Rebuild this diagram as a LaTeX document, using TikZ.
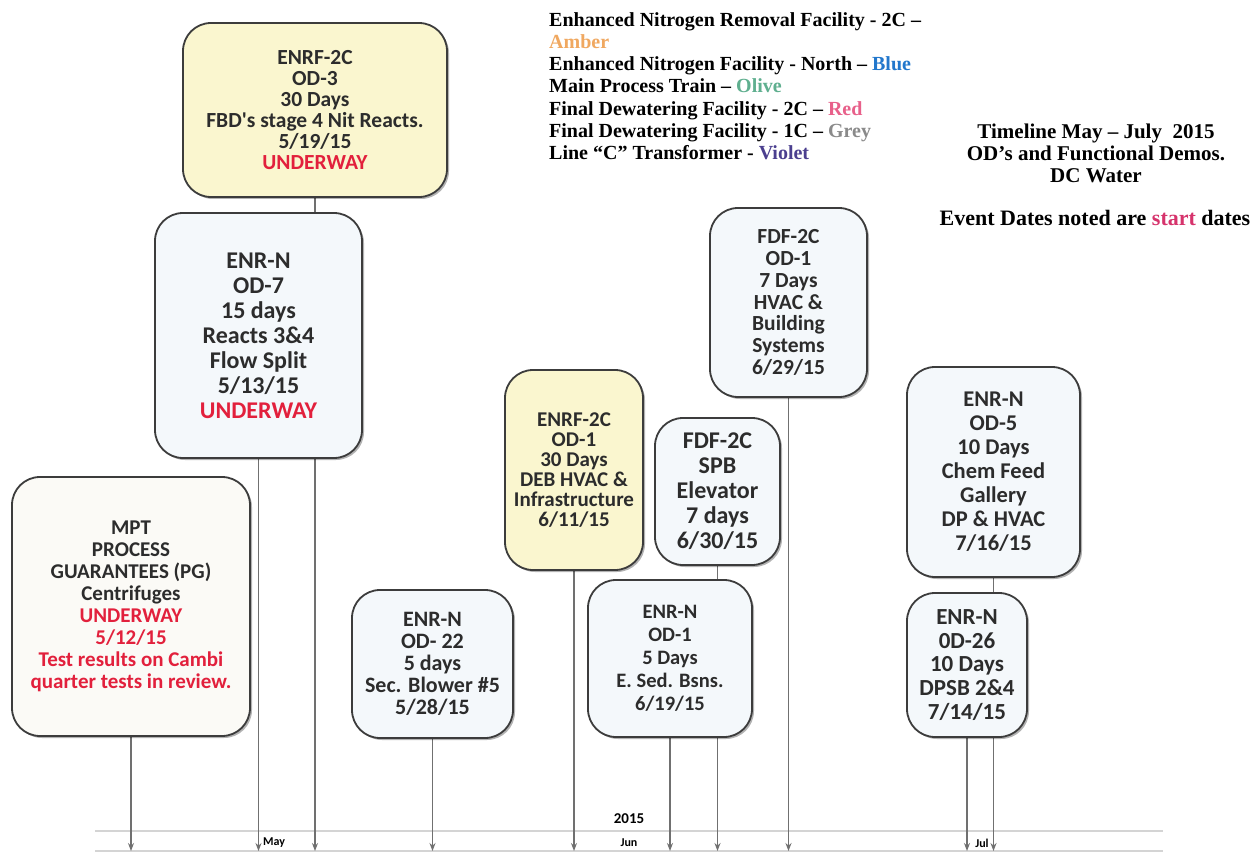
\documentclass[tikz,border=0pt]{standalone}
\usepackage{fontspec}
\setmainfont{Liberation Serif}
\newfontfamily\boxfont{Carlito}
\usetikzlibrary{shapes,arrows.meta,positioning,shadows,backgrounds}
\definecolor{amberfill}{HTML}{FAF6CF}
\definecolor{bluefill}{HTML}{F4F8FB}
\definecolor{olivefill}{HTML}{FBFAF6}
\definecolor{boxline}{HTML}{3C3C3C}
\definecolor{boxtext}{HTML}{2C2C2C}
\definecolor{underway}{HTML}{E2203C}
\definecolor{linegrey}{HTML}{707070}
\definecolor{axisgrey}{HTML}{D4D4D4}
\definecolor{amber}{HTML}{F0A860}
\definecolor{blueleg}{HTML}{2277CC}
\definecolor{oliveleg}{HTML}{5FAF8F}
\definecolor{redleg}{HTML}{E8608A}
\definecolor{greyleg}{HTML}{8A8A8A}
\definecolor{violetleg}{HTML}{4B3F8F}
\definecolor{startred}{HTML}{D6336C}
\tikzstyle{event} = [rectangle, draw=boxline, line width=1.8pt, rounded corners=28pt,
    align=center, inner sep=0pt, text=boxtext,
    drop shadow={shadow xshift=2pt, shadow yshift=-2pt, opacity=0.3, fill=black}]
\tikzstyle{arrow} = [line width=1.1pt, draw=linegrey, -{Stealth[length=8pt,width=6pt]}]
\tikzstyle{axisline} = [line width=2.5pt, draw=axisgrey]
\tikzset{fs/.style 2 args={font=\boxfont\bfseries\fontsize{#1}{#2}\selectfont}}

\begin{document}
\begin{tikzpicture}[x=1pt, y=-1pt]
\useasboundingbox (0,0) rectangle (1259,853);
% event boxes
\node[event, fill=amberfill, minimum width=264pt, minimum height=174pt, fs={21.5}{21}] (od3) at (315,110)
  {ENRF-2C\\OD-3\\30 Days\\FBD's stage 4 Nit Reacts.\\5/19/15\\\textcolor{underway}{UNDERWAY}};
\node[event, fill=bluefill, minimum width=207pt, minimum height=245pt, fs={24}{25}] (od7) at (258.5,335.5)
  {ENR-N\\OD-7\\15 days\\Reacts 3\&4\\Flow Split\\5/13/15\\\textcolor{underway}{UNDERWAY}};
\node[event, fill=olivefill, minimum width=238pt, minimum height=259pt, fs={21}{22}] (mpt) at (131,606.5)
  {MPT\\PROCESS\\GUARANTEES (PG)\\Centrifuges\\\textcolor{underway}{UNDERWAY}\\\textcolor{underway}{5/12/15}\\
   \textcolor{underway}{Test results on Cambi}\\\textcolor{underway}{quarter tests in review.}};
\node[event, fill=bluefill, minimum width=161pt, minimum height=148pt, fs={22}{22}] (od22) at (432.5,664)
  {ENR-N\\OD- 22\\5 days\\Sec. Blower \#5\\5/28/15};
\node[event, fill=amberfill, minimum width=138pt, minimum height=200pt, fs={21}{20}] (enrf1) at (574,470)
  {ENRF-2C\\OD-1\\30 Days\\DEB HVAC \&\\Infrastructure\\6/11/15};
\node[event, fill=bluefill, minimum width=157pt, minimum height=189pt, fs={21.5}{21.7}] (fdf1) at (788.5,302.5)
  {FDF-2C\\OD-1\\7 Days\\HVAC \&\\Building\\Systems\\6/29/15};
\node[event, fill=bluefill, minimum width=125pt, minimum height=147pt, fs={24}{25}] (spb) at (717.5,491.5)
  {FDF-2C\\SPB\\Elevator\\7 days\\6/30/15};
\node[event, fill=bluefill, minimum width=164pt, minimum height=157pt, fs={20.5}{23}] (enr1) at (670,658.5)
  {ENR-N\\OD-1\\5 Days\\E. Sed. Bsns.\\6/19/15};
\node[event, fill=bluefill, minimum width=173pt, minimum height=210pt, fs={22.5}{24}] (od5) at (993.5,472)
  {ENR-N\\OD-5\\10 Days\\Chem Feed\\Gallery\\DP \& HVAC\\7/16/15};
\node[event, fill=bluefill, minimum width=120pt, minimum height=144pt, fs={23}{23.7}] (od26) at (967,665)
  {ENR-N\\0D-26\\10 Days\\DPSB 2\&4\\7/14/15};
% legend and title
\node[anchor=north west, align=left, inner sep=0pt, font=\bfseries\fontsize{20}{22.3}\selectfont] (legend) at (549,12)
  {Enhanced Nitrogen Removal Facility - 2C --\\\textcolor{amber}{Amber}\\
   Enhanced Nitrogen Facility - North -- \textcolor{blueleg}{Blue}\\
   Main Process Train -- \textcolor{oliveleg}{Olive}\\
   Final Dewatering Facility - 2C -- \textcolor{redleg}{Red}\\
   Final Dewatering Facility - 1C -- \textcolor{greyleg}{Grey}\\
   Line ``C'' Transformer - \textcolor{violetleg}{Violet}};
\node[align=center, font=\bfseries\fontsize{21}{22}\selectfont] (title) at (1096,153)
  {Timeline May -- July\ \ 2015\\OD's and Functional Demos.\\DC Water};
\node[font=\bfseries\fontsize{22}{22}\selectfont] (note) at (1095,218)
  {Event Dates noted are \textcolor{startred}{start} dates};
% axis labels
\coordinate (axisend) at (0,851);
\node[font=\boxfont\bfseries\fontsize{15}{15}\selectfont] (year) at (629,819) {2015};
\node[font=\boxfont\bfseries\fontsize{12}{12}\selectfont] (may) at (274,843) {May};
\node[font=\boxfont\bfseries\fontsize{12}{12}\selectfont] (jun) at (629,843) {Jun};
\node[font=\boxfont\bfseries\fontsize{12}{12}\selectfont] (jul) at (982,843) {Jul};
\begin{pgfonlayer}{background}
\fill[white] (0,0) rectangle (1259,853);
\draw[axisline] (95,831) -- (1163,831);
\draw[axisline] (95,851) -- (1163,851);
\foreach \n in {od3,od7,mpt,od22,enrf1,fdf1,spb,enr1,od5,od26}
  \draw[arrow] (\n) -- (\n |- axisend);
\end{pgfonlayer}
\end{tikzpicture}
\end{document}
